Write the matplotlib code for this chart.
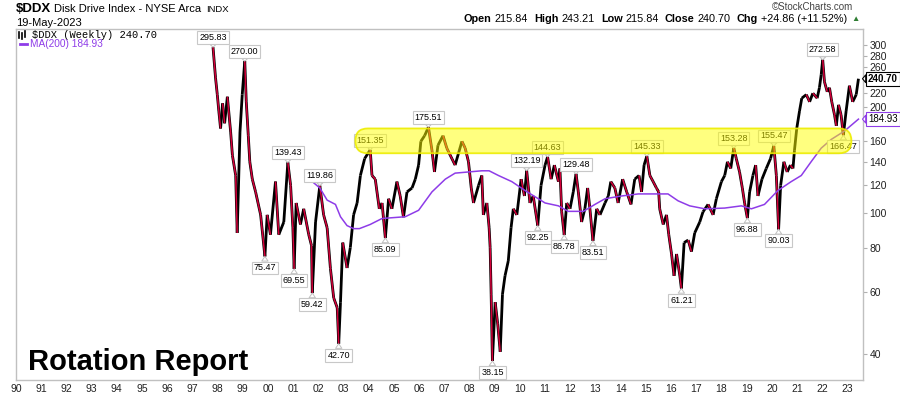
import numpy as np
import matplotlib
matplotlib.use('Agg')
import matplotlib.pyplot as plt
from matplotlib.collections import LineCollection
from matplotlib.patches import FancyBboxPatch
from matplotlib.lines import Line2D
from matplotlib.transforms import IdentityTransform

plt.rcParams['font.family'] = ['Liberation Sans', 'DejaVu Sans']

# $DDX weekly path (decimal year, price)
years = [1997.82, 1997.92, 1997.99, 1998.05, 1998.12, 1998.20, 1998.28, 1998.39, 1998.52, 1998.59,
         1998.72, 1998.78, 1998.89, 1998.98, 1999.08, 1999.14, 1999.22, 1999.28, 1999.38, 1999.51,
         1999.71, 1999.88, 1999.97, 2000.10, 2000.30, 2000.43, 2000.63, 2000.79, 2000.90, 2000.99,
         2001.04, 2001.12, 2001.29, 2001.42, 2001.62, 2001.73, 2001.76, 2001.89, 2002.06, 2002.21,
         2002.35, 2002.48, 2002.61, 2002.75, 2002.81, 2002.88, 2002.97, 2003.14, 2003.27, 2003.40,
         2003.54, 2003.67, 2003.84, 2004.06, 2004.13, 2004.26, 2004.42, 2004.53, 2004.66, 2004.79,
         2004.92, 2005.12, 2005.25, 2005.38, 2005.52, 2005.72, 2005.85, 2005.98, 2006.07, 2006.22,
         2006.37, 2006.51, 2006.61, 2006.75, 2006.95, 2007.10, 2007.30, 2007.43, 2007.70, 2007.83,
         2007.96, 2008.07, 2008.16, 2008.36, 2008.49, 2008.55, 2008.69, 2008.78, 2008.82, 2008.86,
         2008.91, 2009.02, 2009.12, 2009.22, 2009.31, 2009.41, 2009.54, 2009.65, 2009.74, 2009.88,
         2010.05, 2010.18, 2010.27, 2010.40, 2010.53, 2010.71, 2010.84, 2011.00, 2011.10, 2011.24,
         2011.37, 2011.53, 2011.59, 2011.66, 2011.76, 2011.86, 2011.99, 2012.12, 2012.23, 2012.32,
         2012.45, 2012.58, 2012.69, 2012.78, 2012.90, 2013.05, 2013.18, 2013.38, 2013.51, 2013.61,
         2013.77, 2013.90, 2014.08, 2014.24, 2014.41, 2014.56, 2014.73, 2014.83, 2014.93, 2015.04,
         2015.16, 2015.29, 2015.42, 2015.51, 2015.55, 2015.69, 2015.82, 2015.91, 2016.02, 2016.12,
         2016.22, 2016.35, 2016.41, 2016.52, 2016.68, 2016.81, 2016.94, 2017.14, 2017.27, 2017.47,
         2017.67, 2017.80, 2018.00, 2018.13, 2018.24, 2018.37, 2018.49, 2018.59, 2018.72, 2018.83,
         2018.92, 2019.03, 2019.12, 2019.25, 2019.36, 2019.45, 2019.61, 2019.78, 2019.95, 2020.08,
         2020.18, 2020.27, 2020.35, 2020.48, 2020.61, 2020.74, 2020.84, 2020.90, 2020.99, 2021.10,
         2021.19, 2021.37, 2021.50, 2021.63, 2021.80, 2021.89, 2021.96, 2022.02, 2022.09, 2022.20,
         2022.29, 2022.38, 2022.49, 2022.56, 2022.65, 2022.75, 2022.84, 2022.95, 2023.08, 2023.21,
         2023.35, 2023.44]
prices = [295.83, 242, 217, 195, 174, 205, 180, 214, 170, 146,
          128, 88, 170, 217, 270.00, 207, 166, 140, 125, 115,
          99, 75.47, 99, 87, 123, 87, 94.5, 139.43, 120, 91,
          69.55, 107, 93, 103, 87, 81, 59.42, 94.5, 119.86, 99,
          91, 69.8, 57.6, 54, 42.70, 56, 82.6, 70, 80, 99,
          107, 128, 143, 151.35, 128, 125, 103, 107, 85.09, 110,
          103, 123, 112, 97.5, 115, 118, 125, 137, 160, 166,
          175.51, 151, 131, 156, 166, 153, 143, 137, 160, 153,
          140, 118, 107, 120, 128, 99, 107, 91, 80, 59,
          38.15, 56, 48.6, 40.5, 59, 66.5, 73.3, 91, 103, 99,
          125, 112, 132.19, 107, 112, 92.25, 120, 137, 144.63, 125,
          137, 123, 134, 101, 86.78, 107, 103, 115, 129.48, 115,
          94.5, 103, 118, 103, 83.51, 103, 99, 107, 112, 123,
          118, 107, 125, 115, 106, 125, 128, 115, 137, 145.33,
          128, 123, 118, 115, 103, 93, 99, 87, 76.7, 66.5,
          76.7, 66.5, 61.21, 82.6, 84, 77.9, 88, 94.5, 101, 106,
          99, 110, 123, 128, 140, 134, 153.28, 143, 131, 118,
          107, 96.88, 115, 128, 137, 112, 125, 134, 143, 155.47,
          128, 90.03, 120, 140, 131, 137, 134, 151, 174, 195,
          212, 217, 207, 219, 212, 227, 247, 272.58, 236, 221,
          227, 207, 190, 177, 203, 190, 166.47, 195, 230, 207,
          217, 240.70]

# 200-week moving average
ma_years = [2001.76, 2002.06, 2002.35, 2002.68, 2002.88, 2003.14, 2003.40, 2003.63, 2004.06, 2004.53,
            2005.45, 2005.98, 2006.51, 2007.04, 2007.43, 2007.96, 2008.49, 2008.78, 2009.15, 2009.68,
            2010.21, 2011.00, 2011.53, 2011.92, 2012.52, 2012.98, 2013.38, 2014.04, 2014.70, 2015.88,
            2016.28, 2016.74, 2017.34, 2018.13, 2018.79, 2019.19, 2019.71, 2020.24, 2020.77, 2021.17,
            2021.56, 2021.96, 2022.36, 2022.88, 2023.44]
ma_values = [123, 118, 109, 106, 97.8, 92.3, 90.5, 90.5, 93, 96.7,
             97.8, 102, 115, 125, 130, 131, 132, 132, 128, 123,
             116, 107, 105, 101.3, 101.3, 106, 110, 112, 113.5, 113.5,
             108.5, 105, 103, 103.5, 105, 103, 106, 116, 123, 128,
             140, 153, 162, 171, 184.93]

# labelled swing highs / lows
high_years = [1997.82, 1999.08, 2000.79, 2002.06, 2004.06, 2006.37, 2010.27, 2011.10, 2012.23,
              2015.04, 2018.49, 2020.08, 2022.02]
high_values = [295.83, 270.00, 139.43, 119.86, 151.35, 175.51, 132.19, 144.63, 129.48,
               145.33, 153.28, 155.47, 272.58]
low_years = [1999.88, 2001.04, 2001.76, 2002.81, 2004.66, 2008.91, 2010.71, 2011.76, 2012.90,
             2016.41, 2019.03, 2020.27, 2022.84]
low_values = [75.47, 69.55, 59.42, 42.70, 85.09, 38.15, 92.25, 86.78, 83.51,
              61.21, 96.88, 90.03, 166.47]

year_ticks = list(range(1990, 2024))
price_ticks = [40, 60, 80, 100, 120, 140, 160, 200, 220, 260, 280, 300]

# highlighted resistance zone
band_years = (2003.47, 2023.16)
band_prices = (148, 174)

W, H = 900, 396
fig = plt.figure(figsize=(9, 3.96), dpi=100)


def fx(px):
    return px / W


def fy(py):
    return 1 - py / H


ax = fig.add_axes([fx(16), fy(380), (862.5 - 16) / W, (380 - 29) / H])
ax.set_yscale('log')
ax.set_xlim(1990.0, 2023.6)
ax.set_ylim(33.7, 333)

# price bars: black, with red on the down moves
pts = np.column_stack([years, prices])
segs = np.stack([pts[:-1], pts[1:]], axis=1)
down = [b < a for a, b in zip(prices[:-1], prices[1:])]
ax.add_collection(LineCollection(segs, colors='black', linewidths=2.0, zorder=2))
ax.add_collection(LineCollection(segs[np.array(down)], colors='#d4003a', linewidths=1.1, zorder=2.1))

ax.plot(ma_years, ma_values, color='#8e3ce8', lw=1.1, zorder=2.5)

box = dict(boxstyle='square,pad=0.22', fc='white', ec='#c8c8c8', lw=0.8)
tail = dict(arrowstyle='wedge,tail_width=0.7,shrink_factor=0.5', fc='white', ec='#c0c0c0',
            lw=0.7, shrinkA=0, shrinkB=0)
for yr, v in zip(high_years, high_values):
    ax.annotate(f'{v:.2f}', xy=(yr, v), xytext=(0, 7), textcoords='offset points',
                ha='center', va='center', fontsize=6.5, bbox=box, arrowprops=tail, zorder=3)
for yr, v in zip(low_years, low_values):
    ax.annotate(f'{v:.2f}', xy=(yr, v), xytext=(0, -8.3), textcoords='offset points',
                ha='center', va='center', fontsize=6.5, bbox=box, arrowprops=tail, zorder=3)

# axes styling
for s in ax.spines.values():
    s.set_color('#c0c0c0')
    s.set_linewidth(1)
ax.yaxis.tick_right()
ax.set_yticks(price_ticks)
ax.set_yticklabels([str(t) for t in price_ticks])
ax.yaxis.set_minor_locator(plt.NullLocator())
ax.yaxis.set_minor_formatter(plt.NullFormatter())
ax.tick_params(axis='y', direction='out', length=3, width=0.8, color='#b0b0b0',
               labelsize=7.5, labelcolor='#222222', pad=2)
ax.set_xticks(year_ticks)
ax.set_xticklabels([f'{y % 100:02d}' for y in year_ticks])
ax.xaxis.set_minor_locator(plt.NullLocator())
ax.tick_params(axis='x', length=0, labelsize=7.5, labelcolor='#222222', pad=3)

# last value tags on the right axis
ax.annotate(f'{prices[-1]:.2f}', xy=(1.0, prices[-1]), xycoords=('axes fraction', 'data'),
            xytext=(4, 0), textcoords='offset points', ha='left', va='center',
            fontsize=7, fontweight='bold',
            bbox=dict(boxstyle='square,pad=0.2', fc='white', ec='black', lw=0.8),
            arrowprops=dict(arrowstyle='wedge,tail_width=0.8,shrink_factor=0.5', fc='white',
                            ec='black', lw=0.8, shrinkA=0, shrinkB=0),
            annotation_clip=False, zorder=5)
ax.annotate(f'{ma_values[-1]:.2f}', xy=(1.0, ma_values[-1]), xycoords=('axes fraction', 'data'),
            xytext=(4, 0), textcoords='offset points', ha='left', va='center',
            fontsize=7,
            bbox=dict(boxstyle='square,pad=0.2', fc='white', ec='#8e3ce8', lw=0.8),
            arrowprops=dict(arrowstyle='wedge,tail_width=0.8,shrink_factor=0.5', fc='white',
                            ec='#8e3ce8', lw=0.8, shrinkA=0, shrinkB=0),
            annotation_clip=False, zorder=5)

# yellow pill over the resistance zone
x0, y0 = ax.transData.transform((band_years[0], band_prices[0]))
x1, y1 = ax.transData.transform((band_years[1], band_prices[1]))
band = FancyBboxPatch((x0, y0), x1 - x0, y1 - y0,
                      boxstyle=f'round,pad=0,rounding_size={(y1 - y0) / 2:.2f}',
                      transform=IdentityTransform(), fc=(1, 1, 0, 0.5),
                      ec=(0.93, 0.93, 0, 0.9), lw=1.3, zorder=4)
fig.add_artist(band)

# in-chart legend
for bx, b0, b1 in [(19, 32, 38), (22, 33, 39), (25, 31, 37)]:
    fig.add_artist(Line2D([fx(bx), fx(bx)], [fy(b0), fy(b1)], color='black', lw=1.2))
fig.text(fx(32), fy(35), '$DDX (Weekly) 240.70', family='Liberation Mono', fontsize=7.5,
         va='center', ha='left')
fig.add_artist(Line2D([fx(20), fx(27)], [fy(44), fy(44)], color='#8e3ce8', lw=2))
fig.text(fx(30), fy(44), 'MA(200) 184.93', fontsize=7.3, color='#8e3ce8', va='center', ha='left')

# header
r = fig.canvas.get_renderer()
t = fig.text(fx(16), fy(9), '$DDX', fontsize=9.5, fontweight='bold', va='center', ha='left')
xh = 16 + t.get_window_extent(r).width + 3
t = fig.text(fx(xh), fy(9), 'Disk Drive Index - NYSE Arca', fontsize=8, va='center', ha='left')
xh += t.get_window_extent(r).width + 5
fig.text(fx(xh), fy(9.5), 'INDX', fontsize=6.8, va='center', ha='left')
fig.text(fx(16), fy(22.5), '19-May-2023', fontsize=8, va='center', ha='left')
fig.text(fx(853), fy(7), '\u00a9StockCharts.com', fontsize=7, color='#444444', va='center', ha='right')

pieces = [('Open', True), ('215.84', False), ('High', True), ('243.21', False),
          ('Low', True), ('215.84', False), ('Close', True), ('240.70', False),
          ('Chg', True), ('+24.86 (+11.52%)', False)]
xpos = 464
for s, bold in pieces:
    t = fig.text(fx(xpos), fy(19.5), s, fontsize=7.8, fontweight='bold' if bold else 'normal',
                 va='center', ha='left')
    xpos += t.get_window_extent(r).width + (3 if bold else 6)
fig.text(fx(xpos - 2), fy(19.5), '\u25b2', fontsize=6, color='#2e7d32', va='center', ha='left')

fig.text(fx(28), fy(370), 'Rotation Report', fontsize=21, fontweight='bold', va='baseline', ha='left')

fig.savefig('out.png', dpi=100)
